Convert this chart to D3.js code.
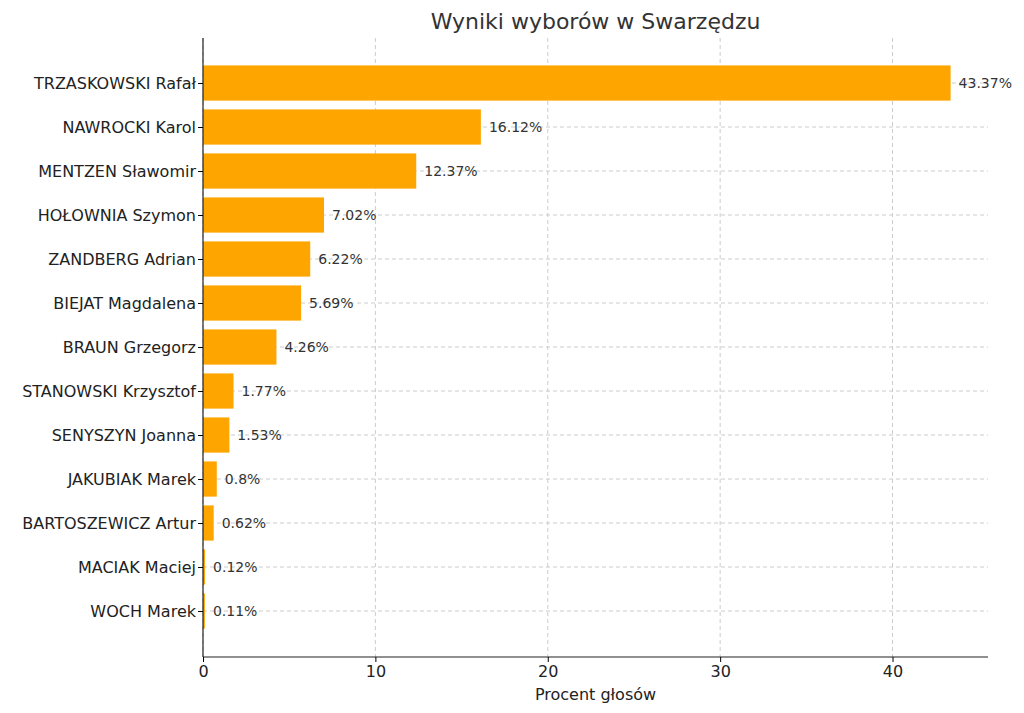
<!DOCTYPE html>
<html><head><meta charset="utf-8">
<script src="https://cdn.jsdelivr.net/npm/d3@7"></script>
<style>body{margin:0;background:#fff;font-family:"DejaVu Sans",sans-serif}</style>
</head><body><svg id="c" width="1024" height="713"></svg>
<script>
const candidates=["TRZASKOWSKI Rafał","NAWROCKI Karol","MENTZEN Sławomir","HOŁOWNIA Szymon","ZANDBERG Adrian","BIEJAT Magdalena","BRAUN Grzegorz","STANOWSKI Krzysztof","SENYSZYN Joanna","JAKUBIAK Marek","BARTOSZEWICZ Artur","MACIAK Maciej","WOCH Marek"];
const values=[43.37,16.12,12.37,7.02,6.22,5.69,4.26,1.77,1.53,0.8,0.62,0.12,0.11];
const xTicks=[0,10,20,30,40];
const L=203,R=988,T=38,B=657;
const svg=d3.select("#c");
const x=d3.scaleLinear().domain([0,d3.max(values)*1.05]).range([L,R]);
const y=d3.scaleLinear().domain([-1.023,13.045]).range([T,B]);
const idx=d3.range(candidates.length);
// grid
svg.append("g").selectAll("line").data(xTicks).join("line")
 .attr("x1",d=>x(d)).attr("x2",d=>x(d)).attr("y1",T).attr("y2",B)
 .attr("stroke","#ccc").attr("stroke-dasharray","4,3");
svg.append("g").selectAll("line").data(idx).join("line")
 .attr("x1",L).attr("x2",R).attr("y1",i=>y(i)).attr("y2",i=>y(i))
 .attr("stroke","#ccc").attr("stroke-dasharray","4,3");
// bars
const bh=y(0.4)-y(-0.4);
svg.append("g").selectAll("rect").data(idx).join("rect")
 .attr("x",x(0)).attr("y",i=>y(i)-bh/2).attr("width",i=>x(values[i])-x(0)).attr("height",bh)
 .attr("fill","#ffa500");
svg.append("g").selectAll("text").data(idx).join("text")
 .attr("x",i=>x(values[i])+8).attr("y",i=>y(i)).attr("dy","0.35em")
 .attr("font-size",14).attr("fill","#333").text(i=>values[i]+"%");
// axes
const xa=svg.append("g").attr("transform",`translate(0,${B})`).call(d3.axisBottom(x).tickValues(xTicks).tickSize(5).tickPadding(4));
xa.selectAll("text").attr("font-size",16).attr("fill","#222").attr("font-family","DejaVu Sans");
const ya=svg.append("g").attr("transform",`translate(${L},0)`).call(d3.axisLeft(y).tickValues(idx).tickFormat(i=>candidates[i]).tickSize(5).tickPadding(2));
ya.selectAll("text").attr("font-size",16).attr("fill","#222").attr("font-family","DejaVu Sans");
ya.select(".domain").attr("d",`M0,${T}V${B}`);
xa.select(".domain").attr("d",`M${L},0H${R}`);
svg.selectAll(".domain").attr("stroke","#222").attr("stroke-width",1.2);
svg.append("text").attr("x",(L+R)/2).attr("y",700).attr("text-anchor","middle").attr("font-size",16).attr("fill","#222").text("Procent głosów");
svg.append("text").attr("x",(L+R)/2).attr("y",29).attr("text-anchor","middle").attr("font-size",22).attr("fill","#333").text("Wyniki wyborów w Swarzędzu");
</script></body></html>
